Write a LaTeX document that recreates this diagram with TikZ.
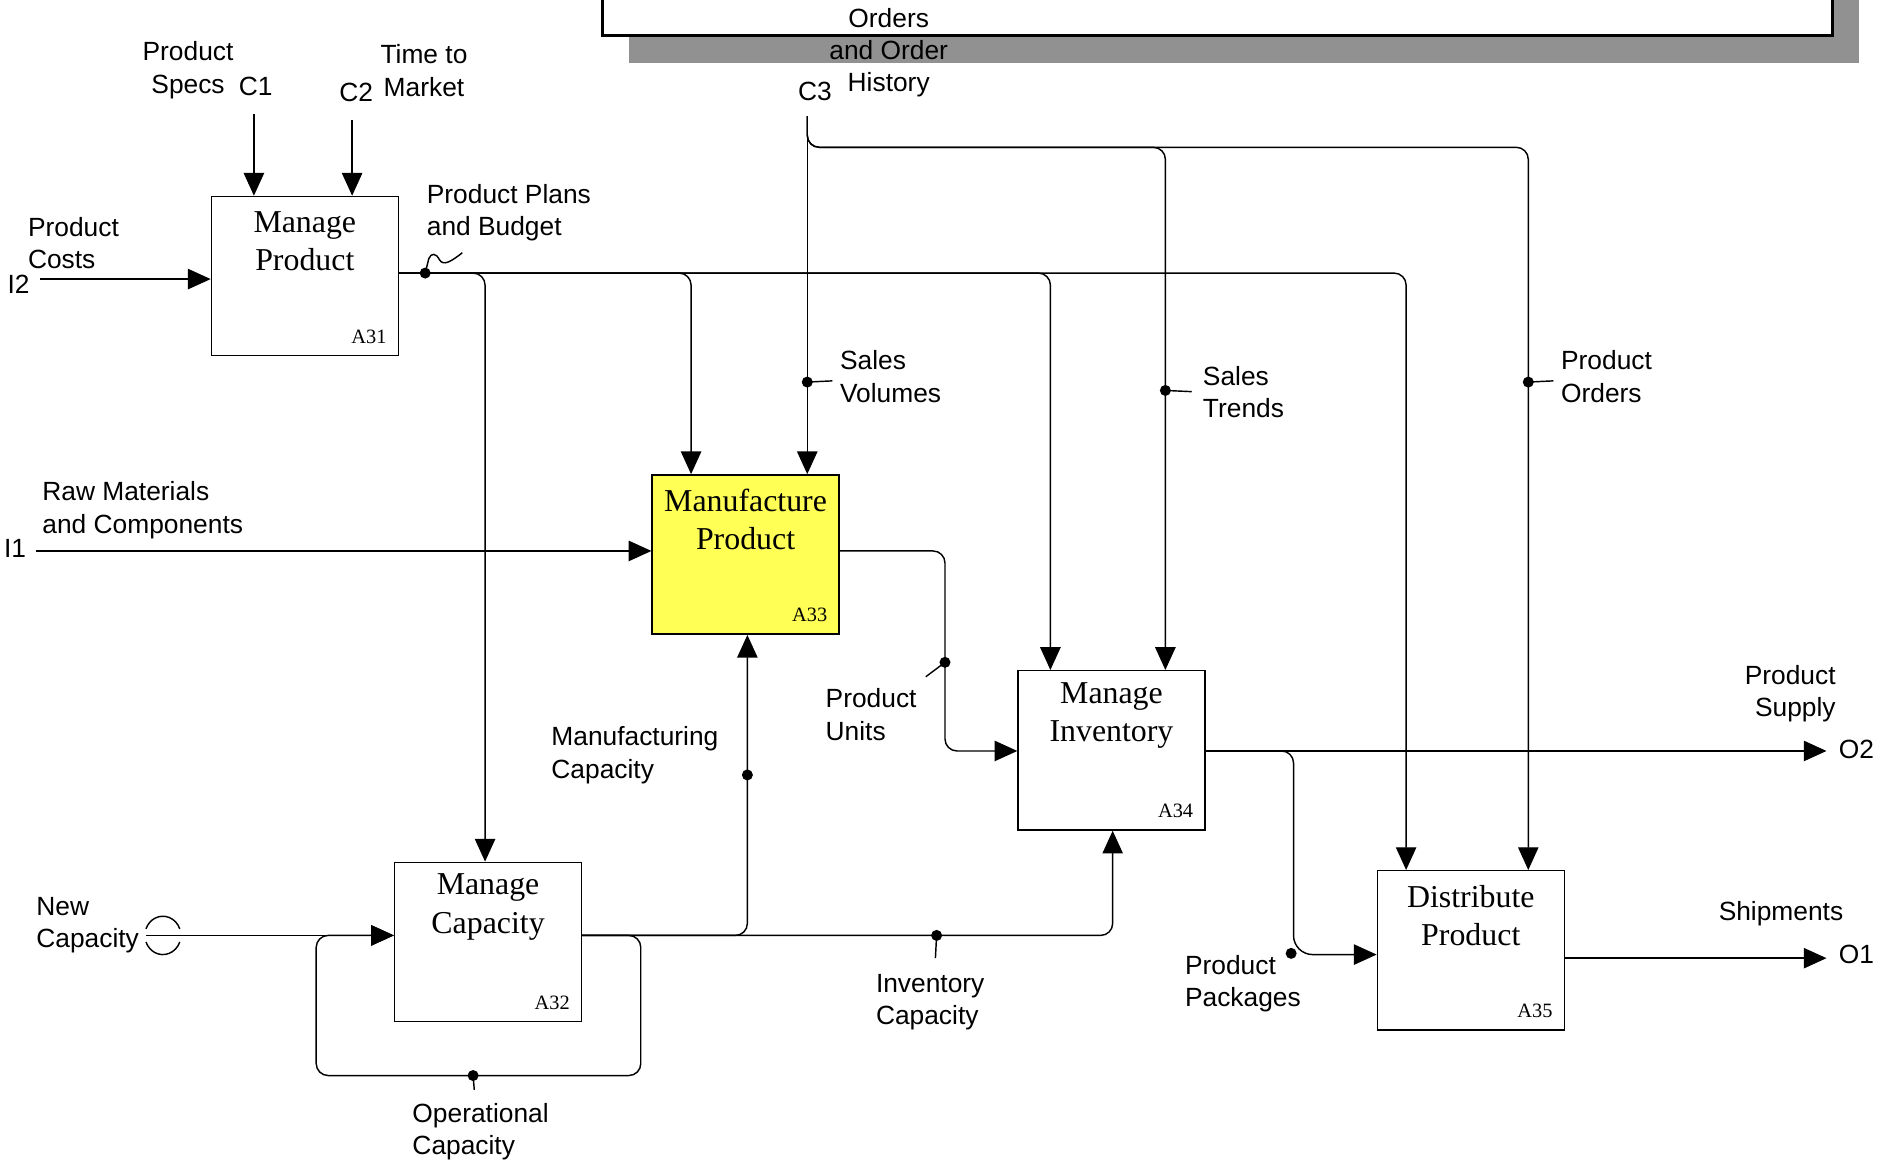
\documentclass[tikz,border=0pt]{standalone}
\usepackage{fontspec}
\setmainfont{Liberation Sans}
\newfontfamily\boxfont{Liberation Serif}
\usetikzlibrary{arrows.meta,calc}
\definecolor{hiyellow}{HTML}{FFFF55}
\definecolor{shadowgray}{HTML}{919191}
\begin{document}
\begin{tikzpicture}[x=0.5pt,y=-0.5pt,
  wire/.style={line width=0.6pt},
  arr/.style={wire, -{Triangle[length=9.5pt,width=8.5pt]}},
  rc/.style={rounded corners=5pt},
  activity/.style={draw, line width=0.6pt, minimum width=78pt, minimum height=66.5pt, inner sep=0pt},
  ttl/.style={font=\boxfont\fontsize{13.3pt}{16pt}\selectfont, align=center, inner sep=0pt},
  num/.style={font=\boxfont\fontsize{8.5pt}{10pt}\selectfont, inner sep=0pt, anchor=base east},
  lbl/.style={font=\fontsize{11pt}{13.5pt}\selectfont, align=left, inner sep=0pt, anchor=west},
  clbl/.style={lbl, align=center, anchor=center},
  jdot/.style={circle, fill, inner sep=0pt, minimum size=4.6pt},
]
\useasboundingbox (0,0) rectangle (1568,969);
\clip (0,0) rectangle (1568,969);

% parent diagram frame with its shadow
\fill[shadowgray] (525,-10) rectangle (1552,53);
\draw[line width=1.3pt, fill=white] (503,-20) rectangle (1530,30);

% activities
\node[activity] (a31) at (254.5,230.5) {};
\node[activity, fill=hiyellow] (a33) at (622.5,463) {};
\node[activity] (a34) at (928,626.5) {};
\node[activity] (a35) at (1228,793.5) {};
\node[activity] (a32) at (407.5,786.5) {};

\node[ttl] (t31) at ([yshift=-19pt]a31.north) {Manage\\Product};
\node[ttl] (t33) at ([yshift=-19pt]a33.north) {Manufacture\\Product};
\node[ttl] (t34) at ([yshift=-19pt]a34.north) {Manage\\Inventory};
\node[ttl] (t35) at ([yshift=-19pt]a35.north) {Distribute\\Product};
\node[ttl] (t32) at ([yshift=-19pt]a32.north) {Manage\\Capacity};

\node[num] (n31) at ([xshift=-5pt,yshift=5.5pt]a31.south east) {A31};
\node[num] (n33) at ([xshift=-5pt,yshift=5.5pt]a33.south east) {A33};
\node[num] (n34) at ([xshift=-5pt,yshift=5.5pt]a34.south east) {A34};
\node[num] (n35) at ([xshift=-5pt,yshift=5.5pt]a35.south east) {A35};
\node[num] (n32) at ([xshift=-5pt,yshift=5.5pt]a32.south east) {A32};

% boundary arrows
\coordinate (c1) at (212,95);
\coordinate (c2) at (294,100);
\coordinate (c3) at (674,97);
\coordinate (i2) at (33,233);
\coordinate (i1) at (30,460);
\coordinate (nc) at (122,781);
\coordinate (o2) at (1525,627);
\coordinate (o1) at (1525,800);

\draw[arr] (c1) -- (c1 |- a31.north);
\draw[arr] (c2) -- (c2 |- a31.north);
\draw[arr] (i2) -- (i2 -| a31.west);
\draw[arr] (i1) -- (i1 -| a33.west);
\draw[arr] (nc) -- (nc -| a32.west);

% tunnel on New Capacity
\draw[wire] (136,781) ++(160:15 and 16) arc[start angle=160, end angle=20, x radius=15, y radius=16];
\draw[wire] (136,781) ++(200:15 and 16) arc[start angle=200, end angle=340, x radius=15, y radius=16];

% Product Plans and Budget
\coordinate (pp) at (a31.east |- 0,228);
\draw[arr,rc] (pp) -| (a32.north -| 405,0);
\draw[arr,rc] (pp) -| (a33.north -| 577,0);
\draw[arr,rc] (pp) -| (a34.north -| 877,0);
\draw[arr,rc] (pp) -| (a35.north -| 1174,0);
\node[jdot] (dpp) at (355,228) {};
\draw[wire] (dpp.center) -- (358,216) .. controls (360,211) and (364,211) .. (367,217)
  .. controls (370,222) and (376,219) .. (386,211);

% Orders and Order History
\draw[arr] (c3) -- (c3 |- a33.north);
\draw[arr,rc] (c3) |- (973,123) -- (a34.north -| 973,0);
\draw[arr,rc] (c3) |- (1276,123) -- (a35.north -| 1276,0);
\node[jdot] (dsv) at (674,319) {};
\draw[wire] (dsv.center) -- (695,318);
\node[jdot] (dst) at (973,326) {};
\draw[wire] (dst.center) -- (995,327);
\node[jdot] (dpo) at (1276,319) {};
\draw[wire] (dpo.center) -- (1297,318);

% Product Units
\draw[arr,rc] (a33.east |- 0,460) -| (789,627) -- (a34.west |- 0,627);
\node[jdot] (dpu) at (789,553) {};
\draw[wire] (dpu.center) -- (773,565);

% Manage Inventory outputs
\draw[arr] (a34.east |- o2) -- (o2);
\draw[arr,rounded corners=5pt] (a34.east |- o2) -| (1080,700)
  [rounded corners=8pt] -- (1080,797) -- (a35.west |- 0,797);
\node[jdot] (dpk) at (1078,796) {};

% Shipments
\draw[arr] (a35.east |- o1) -- (o1);

% Manage Capacity outputs
\coordinate (cap) at (a32.east |- 0,781);
\draw[arr,rc] (cap) -| (a33.south -| 624,0);
\draw[arr,rc] (cap) -| (a34.south -| 929,0);
\draw[arr,rc] (cap) -| (535,898) -| (264,781) -- (a32.west |- 0,781);
\node[jdot] (dmc) at (624,647) {};
\node[jdot] (dic) at (782,781) {};
\draw[wire] (dic.center) -- (781,800);
\node[jdot] (doc) at (395,898) {};
\draw[wire] (doc.center) -- (396,910);

% labels
\node[clbl] (lps) at (742,44) {Orders\\and Order\\History};
\node[lbl] (lc3) at (666,76) {C3};
\node[clbl] (lspecs) at (157,58.5) {Product\\Specs};
\node[lbl] (lc1) at (199,72.5) {C1};
\node[clbl] (ltime) at (354,59) {Time to\\Market};
\node[lbl] (lc2) at (283,77.5) {C2};
\node[lbl] (lplans) at (356,177.5) {Product Plans\\and Budget};
\node[lbl] (lcosts) at (23,203) {Product\\Costs};
\node[lbl] (li2) at (6,237) {I2};
\node[lbl] (lraw) at (35,426) {Raw Materials\\and Components};
\node[lbl] (li1) at (3,458) {I1};
\node[lbl] (lsv) at (701,314.5) {Sales\\Volumes};
\node[lbl] (lst) at (1004,327.5) {Sales\\Trends};
\node[lbl] (lpo) at (1303,314.5) {Product\\Orders};
\node[lbl] (lpu) at (689,596.5) {Product\\Units};
\node[lbl] (lmc) at (460,630.5) {Manufacturing\\Capacity};
\node[lbl, align=right, anchor=east] (lsup) at (1533,579) {Product\\Supply};
\node[lbl] (lo2) at (1535,626) {O2};
\node[clbl] (lship) at (1487,763) {Shipments};
\node[lbl] (lo1) at (1535,797) {O1};
\node[lbl] (lpk) at (989,821.5) {Product\\Packages};
\node[lbl] (lic) at (731,836.5) {Inventory\\Capacity};
\node[lbl] (lnc) at (30,772.5) {New\\Capacity};
\node[lbl] (loc) at (344,945) {Operational\\Capacity};
\end{tikzpicture}
\end{document}
